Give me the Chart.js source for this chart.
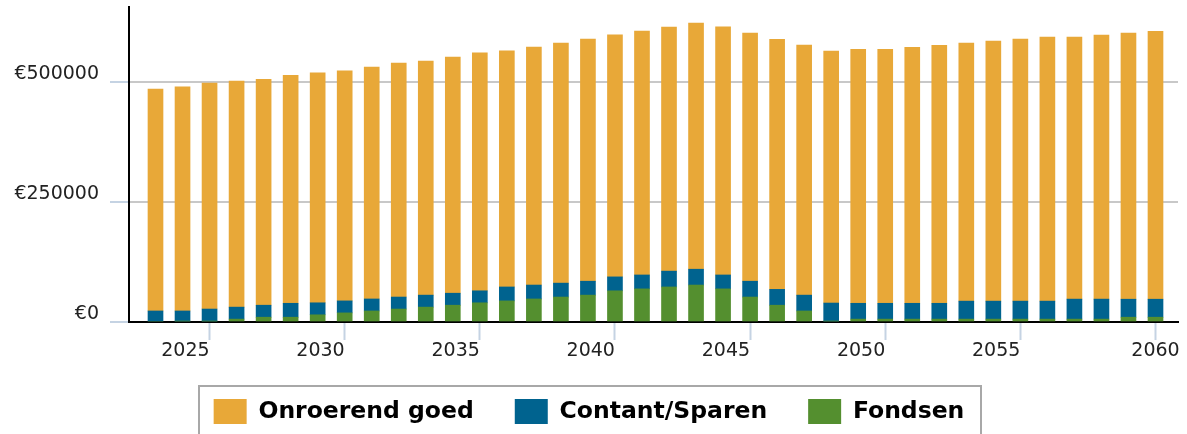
<!DOCTYPE html>
<html><head><meta charset="utf-8">
<script src="https://cdn.jsdelivr.net/npm/chart.js@4.4.1/dist/chart.umd.min.js"></script>
<style>html,body{margin:0;padding:0;background:#fff;overflow:hidden}canvas{display:block}</style>
</head><body>
<canvas id="c" width="1187" height="434"></canvas>
<script>
const years = [2023,2024,2025,2026,2027,2028,2029,2030,2031,2032,2033,2034,2035,2036,2037,2038,2039,2040,2041,2042,2043,2044,2045,2046,2047,2048,2049,2050,2051,2052,2053,2054,2055,2056,2057,2058,2059,2060];
const onroerendGoed = [462500,466700,470800,470800,470800,475000,479200,479200,483300,487500,487500,491700,495800,491700,495800,500000,504200,504200,508300,508300,512500,516700,516700,520800,520800,525000,529200,529200,533300,537500,537500,541700,545800,550000,545800,550000,554200,558300];
const contantSparen = [23000,21000,25000,25000,25000,29000,25000,25000,25000,25000,25000,25000,25000,29000,29000,29000,29000,29000,29000,33000,33000,29000,33000,33000,33000,37500,33000,33000,33000,33000,37500,37500,37500,37500,41700,41700,37500,37500];
const fondsen = [0,2000,2000,6000,10000,10000,15000,19000,23000,27000,31000,35000,40000,44000,48000,52000,56000,65000,69000,73000,77000,69000,52000,35000,23000,2000,6000,6000,6000,6000,6000,6000,6000,6000,6000,6000,10000,10000];
const xTickYears = [2025,2030,2035,2040,2045,2050,2055,2060];
const yTickValues = [0,250000,500000];
const seriesNames = ['Onroerend goed','Contant/Sparen','Fondsen'];
const seriesColors = ['#E8A838','#00638F','#548F2F'];

Chart.defaults.font.family = "'DejaVu Sans', Verdana, sans-serif";

const toPts = arr => years.map((yr, i) => ({x: yr, y: arr[i]}));

const legendBorder = {
  id: 'legendBorder',
  afterDraw(chart) {
    const hb = chart.legend && chart.legend.legendHitBoxes;
    if (!hb || !hb.length) return;
    const first = hb[0], last = hb[hb.length - 1];
    const ctx = chart.ctx;
    const l = Math.round(first.left - 15), r = Math.round(last.left + last.width + 17), t = Math.round(first.top - 13);
    ctx.save();
    ctx.strokeStyle = '#a8a8a8';
    ctx.lineWidth = 2;
    ctx.strokeRect(l, t, r - l, 120);
    ctx.restore();
  }
};

new Chart(document.getElementById('c'), {
  type: 'bar',
  data: {
    datasets: [
      {label: seriesNames[2], data: toPts(fondsen), backgroundColor: seriesColors[2]},
      {label: seriesNames[1], data: toPts(contantSparen), backgroundColor: seriesColors[1]},
      {label: seriesNames[0], data: toPts(onroerendGoed), backgroundColor: seriesColors[0]}
    ]
  },
  options: {
    responsive: false,
    animation: false,
    devicePixelRatio: 1,
    barThickness: 15,
    layout: {padding: {left: 0, right: 9, top: 7, bottom: 0}},
    plugins: {
      tooltip: {enabled: false},
      legend: {
        position: 'bottom',
        labels: {
          boxWidth: 33, boxHeight: 25, padding: 41,
          color: '#000',
          font: {size: 23.5, weight: 'bold'},
          sort: (a, b) => b.datasetIndex - a.datasetIndex
        }
      }
    },
    scales: {
      x: {
        type: 'linear', stacked: true, offset: false,
        min: 2022.0195, max: 2060.8325,
        afterBuildTicks: s => { s.ticks = xTickYears.map(v => ({value: v})); },
        afterFit: s => { s.height = 36; s.paddingLeft = 0; s.paddingRight = 0; },
        grid: {display: true, drawOnChartArea: false, drawTicks: true, tickLength: 18, tickColor: '#c5d3e3', tickWidth: 2, offset: false},
        border: {color: '#000', width: 2},
        ticks: {
          autoSkip: false, maxRotation: 0, minRotation: 0, padding: 0,
          font: {size: 19}, color: '#222',
          callback: (v, i, t) => i === t.length - 1 ? String(v) : String(v) + '\u2007\u2007\u2007\u2007'
        }
      },
      y: {
        stacked: true, min: 0, max: 656250,
        afterBuildTicks: s => { s.ticks = yTickValues.map(v => ({value: v})); },
        afterFit: s => { s.width = 129; s.paddingTop = 0; s.paddingBottom = 0; },
        grid: {color: '#c8c8c8', lineWidth: 2, tickColor: '#c5d3e3', tickLength: 19, tickWidth: 2},
        border: {color: '#000', width: 2},
        ticks: {padding: 11, labelOffset: -8, font: {size: 19}, color: '#222', callback: v => '€' + v}
      }
    }
  },
  plugins: [legendBorder]
});
</script>
</body></html>
